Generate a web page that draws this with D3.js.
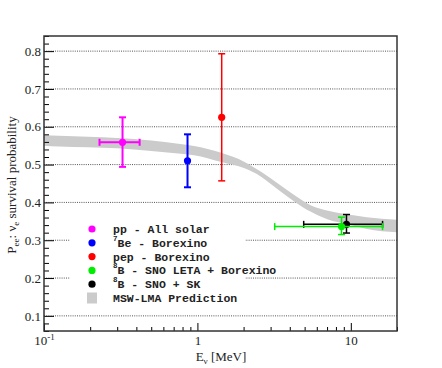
<!DOCTYPE html>
<meta charset="utf-8">
<style>
    body { margin: 0; background: #fff; }
    svg text { fill: #222; }
</style>
<div id="chart"></div>
<script src="https://d3js.org/d3.v7.min.js"></script>
<script>

    // experiment points
    var expSup = ["", "7", "", "8", "8"];
    var expNames = ["pp - All solar", "Be - Borexino", "pep - Borexino", "B - SNO LETA + Borexino", "B - SNO + SK"];
    var expColors = ["#ff00ff", "#0000ff", "#ff0000", "#00ee00", "#000000"];
    var energy = [0.325, 0.862, 1.44, 8.7, 9.37];
    var energyLow = [0.23, null, null, 3.19, 4.93];
    var energyHigh = [0.42, null, null, 16.1, 16.1];
    var prob = [0.559, 0.51, 0.625, 0.336, 0.342];
    var probLow = [0.494, 0.44, 0.457, 0.315, 0.319];
    var probHigh = [0.625, 0.58, 0.793, 0.361, 0.368];

    // MSW-LMA band
    var bandE = [0.1, 0.125, 0.3, 0.5, 0.75, 0.95, 1.43, 2.03, 2.6, 3.35, 4.3, 5.5, 7.1, 9.4, 12.7, 20];
    var bandUp = [0.578, 0.576, 0.570, 0.564, 0.555, 0.549, 0.531, 0.507, 0.481, 0.450, 0.419, 0.392, 0.378, 0.369, 0.361, 0.354];
    var bandLow = [0.550, 0.548, 0.543, 0.536, 0.529, 0.525, 0.507, 0.490, 0.468, 0.434, 0.402, 0.375, 0.355, 0.343, 0.330, 0.321];

    var yMajor = [0.1, 0.2, 0.3, 0.4, 0.5, 0.6, 0.7, 0.8];
    var xMajor = [0.1, 1, 10];
    var xMinor = [0.2, 0.3, 0.4, 0.5, 0.6, 0.7, 0.8, 0.9, 2, 3, 4, 5, 6, 7, 8, 9, 20];

    var W = 442, H = 368;
    var pl = 44, pr = 397, pt = 36, pb = 331;

    var svg = d3.select("#chart").append("svg")
        .attr("width", W)
        .attr("height", H);

    var x = d3.scaleLog().domain([0.1, 20]).range([pl, pr]);
    var y = d3.scaleLinear().domain([0.06, 0.84]).range([pb, pt]);

    // grid lines
    svg.append("g").selectAll("line")
        .data(yMajor)
        .enter().append("line")
        .attr("x1", pl).attr("x2", pr)
        .attr("y1", function (d) { return y(d); })
        .attr("y2", function (d) { return y(d); })
        .attr("stroke", "#555")
        .attr("stroke-width", 1)
        .attr("stroke-dasharray", "1,1.2");

    // band
    var area = d3.area()
        .x(function (d, i) { return x(bandE[i]); })
        .y0(function (d, i) { return y(bandLow[i]); })
        .y1(function (d, i) { return y(bandUp[i]); })
        .curve(d3.curveMonotoneX);
    svg.append("path")
        .datum(bandE)
        .attr("d", area)
        .attr("fill", "#cbcbcb");

    // axes
    var yMinor = d3.range(0.06, 0.845, 0.02).filter(function (v) {
        return Math.abs(Math.round(v * 10) - v * 10) > 0.01;
    });
    svg.append("g")
        .attr("transform", "translate(" + pl + ",0)")
        .call(d3.axisLeft(y).tickValues(yMinor).tickSize(-5).tickFormat(""))
        .call(function (g) { g.select(".domain").remove(); });
    svg.append("g")
        .attr("transform", "translate(" + pl + ",0)")
        .call(d3.axisLeft(y).tickValues(yMajor).tickSize(-10).tickPadding(3).tickFormat(d3.format(".1f")))
        .call(function (g) { g.select(".domain").remove(); })
        .selectAll("text")
        .style("font", "13px 'Liberation Serif', serif");

    svg.append("g")
        .attr("transform", "translate(0," + pb + ")")
        .call(d3.axisBottom(x).tickValues(xMinor).tickSize(-4).tickFormat(""))
        .call(function (g) { g.select(".domain").remove(); });
    var xAx = svg.append("g")
        .attr("transform", "translate(0," + pb + ")")
        .call(d3.axisBottom(x).tickValues(xMajor).tickSize(-8).tickPadding(5).tickFormat(function (d) { return d < 1 ? "" : d; }))
        .call(function (g) { g.select(".domain").remove(); });
    xAx.selectAll("text").style("font", "13px 'Liberation Serif', serif");
    xAx.selectAll("text").filter(function (d) { return d < 1; })
        .each(function () {
            var t = d3.select(this);
            t.append("tspan").text("10");
            t.append("tspan").attr("dy", "-5px").style("font-size", "9px").text("-1");
        });

    // frame
    svg.append("rect")
        .attr("x", pl).attr("y", pt)
        .attr("width", pr - pl).attr("height", pb - pt)
        .attr("fill", "none")
        .attr("stroke", "#333")
        .attr("stroke-width", 1.5);

    // legend
    var leg = svg.append("g");
    leg.append("rect")
        .attr("x", 70).attr("y", 213)
        .attr("width", 175).attr("height", 94)
        .attr("fill", "#fff");
    var rowY = function (i) { return 229 + i * 13.8; };
    expNames.forEach(function (name, i) {
        leg.append("circle")
            .attr("cx", 92).attr("cy", rowY(i)).attr("r", 3.6)
            .attr("fill", expColors[i]);
    });
    leg.append("rect")
        .attr("x", 87).attr("y", rowY(5) - 5.5)
        .attr("width", 10).attr("height", 11)
        .attr("fill", "#cbcbcb");
    var legNames = expNames.concat(["MSW-LMA Prediction"]);
    var legSup = expSup.concat([""]);
    legNames.forEach(function (name, i) {
        var t = leg.append("text")
            .attr("x", 113).attr("y", rowY(i) + 4)
            .style("font", "bold 11.5px 'Liberation Mono', monospace");
        if (legSup[i]) {
            t.append("tspan").attr("dy", "-6px").style("font-size", "7.5px").text(legSup[i]);
            t.append("tspan").attr("dy", "6px").text(name);
        } else {
            t.text(name);
        }
        var bb = t.node().getBBox();
        leg.insert("rect", "text")
            .attr("x", bb.x).attr("y", bb.y + 2)
            .attr("width", bb.width + 1).attr("height", bb.height - 3)
            .attr("fill", "#fff");
    });

    // points, drawn black before green
    var order = [0, 1, 2, 4, 3];
    var widths = [2, 2, 1.5, 1.5, 1.5];
    var pts = svg.append("g");
    order.forEach(function (i) {
        var c = expColors[i], sw = widths[i], cap = 3.5;
        var px = x(energy[i]), py = y(prob[i]);
        pts.append("line")
            .attr("x1", px).attr("x2", px)
            .attr("y1", y(probLow[i])).attr("y2", y(probHigh[i]))
            .attr("stroke", c).attr("stroke-width", sw);
        [probLow[i], probHigh[i]].forEach(function (v) {
            pts.append("line")
                .attr("x1", px - cap).attr("x2", px + cap)
                .attr("y1", y(v)).attr("y2", y(v))
                .attr("stroke", c).attr("stroke-width", sw);
        });
        if (energyLow[i] != null) {
            pts.append("line")
                .attr("x1", x(energyLow[i])).attr("x2", x(energyHigh[i]))
                .attr("y1", py).attr("y2", py)
                .attr("stroke", c).attr("stroke-width", sw);
            [energyLow[i], energyHigh[i]].forEach(function (v) {
                pts.append("line")
                    .attr("x1", x(v)).attr("x2", x(v))
                    .attr("y1", py - cap).attr("y2", py + cap)
                    .attr("stroke", c).attr("stroke-width", sw);
            });
        }
        pts.append("circle")
            .attr("cx", px).attr("cy", py).attr("r", 3.6)
            .attr("fill", c);
    });

    // axis labels
    var xl = svg.append("text")
        .attr("x", 221).attr("y", 361)
        .attr("text-anchor", "middle")
        .style("font", "13px 'Liberation Serif', serif");
    xl.append("tspan").text("E");
    xl.append("tspan").attr("dy", "3px").style("font-size", "9px").text("\u03bd");
    xl.append("tspan").attr("dy", "-3px").text(" [MeV]");

    var yl = svg.append("text")
        .attr("transform", "translate(16," + 185 + ") rotate(-90)")
        .attr("text-anchor", "middle")
        .style("font", "13px 'Liberation Serif', serif");
    yl.append("tspan").text("P");
    yl.append("tspan").attr("dy", "3px").style("font-size", "9px").text("ee");
    yl.append("tspan").attr("dy", "-3px").text(":  \u03bd");
    yl.append("tspan").attr("dy", "3px").style("font-size", "9px").text("e");
    yl.append("tspan").attr("dy", "-3px").text(" survival probability");

</script>
